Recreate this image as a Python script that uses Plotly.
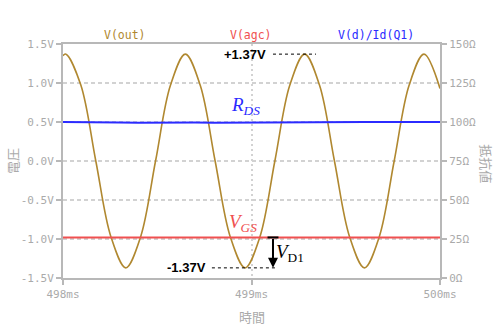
import plotly.graph_objects as go

# ---- data ----
t_out = [498.000, 498.016, 498.095, 498.174, 498.254, 498.333, 498.412, 498.491, 498.570,
         498.649, 498.728, 498.807, 498.887, 498.966, 499.045, 499.124, 499.203, 499.282,
         499.361, 499.440, 499.520, 499.599, 499.678, 499.757, 499.836, 499.915, 500.000]
v_out = [1.35, 1.37, 0.97, 0.00, -0.97, -1.37, -0.97, 0.00, 0.97,
         1.37, 0.97, 0.00, -0.97, -1.37, -0.97, 0.00, 0.97, 1.37,
         0.97, 0.00, -0.97, -1.37, -0.97, 0.00, 0.97, 1.37, 0.93]

t_agc = [498.000, 498.250, 498.500, 498.750, 499.000, 499.250, 499.500, 499.750, 500.000]
v_agc = [-0.98, -0.98, -0.979, -0.98, -0.981, -0.98, -0.979, -0.98, -0.98]

t_rds = [498.000, 498.100, 498.200, 498.300, 498.400, 498.500, 498.600, 498.700, 498.800,
         498.900, 499.000, 499.200, 499.400, 499.600, 499.800, 500.000]
r_ds = [100.0, 100.0, 99.9, 99.6, 99.5, 99.6, 99.8, 99.6, 99.5,
        99.6, 99.8, 100.0, 99.9, 100.0, 100.0, 100.0]

x_ticks = [498, 499, 500]
x_ticktext = ["498ms", "499ms", "500ms"]
y_ticks = [-1.5, -1.0, -0.5, 0.0, 0.5, 1.0, 1.5]
y_ticktext = ["-1.5V", "-1.0V", "-0.5V", "0.0V", "0.5V", "1.0V", "1.5V"]
y2_ticks = [0, 25, 50, 75, 100, 125, 150]
y2_ticktext = ["0Ω", "25Ω", "50Ω", "75Ω", "100Ω", "125Ω", "150Ω"]

peak = 1.37
agc_level = -0.98

GOLD = "#b08830"
RED = "#f05050"
BLUE = "#2b2bff"
GRAY = "#b8b8b8"
GRID = "#d2d2d2"
TICKC = "#aaaaaa"
MONO = "DejaVu Sans Mono"
CJK = "Noto Sans CJK JP"

fig = go.Figure()
fig.add_trace(go.Scatter(x=t_out, y=v_out, mode="lines", line=dict(color=GOLD, width=1.6, shape="spline", smoothing=1.0),
                         name="V(out)", showlegend=False))
fig.add_trace(go.Scatter(x=t_agc, y=v_agc, mode="lines", line=dict(color=RED, width=2),
                         name="V(agc)", showlegend=False))
fig.add_trace(go.Scatter(x=t_rds, y=r_ds, mode="lines", line=dict(color=BLUE, width=2),
                         name="V(d)/Id(Q1)", yaxis="y2", showlegend=False))

fig.update_layout(
    width=501, height=332,
    margin=dict(l=63, r=61, t=44, b=54),
    paper_bgcolor="white", plot_bgcolor="white",
    xaxis=dict(range=[498, 500], tickvals=x_ticks, ticktext=x_ticktext,
               showline=True, linecolor=GRAY, linewidth=2, mirror=True,
               ticks="outside", ticklen=5, tickcolor=GRAY, tickwidth=2,
               showgrid=True, gridcolor=GRID, griddash="2px,3px", gridwidth=1.5,
               zeroline=False, tickfont=dict(family=MONO, size=11, color=TICKC)),
    yaxis=dict(range=[-1.5, 1.5], tickvals=y_ticks, ticktext=y_ticktext,
               showline=True, linecolor=GRAY, linewidth=2,
               ticks="outside", ticklen=5, tickcolor=GRAY, tickwidth=2,
               showgrid=True, gridcolor=GRID, griddash="4px,3px", gridwidth=1.5,
               zeroline=False, tickfont=dict(family=MONO, size=11, color=TICKC)),
    yaxis2=dict(range=[0, 150], tickvals=y2_ticks, ticktext=y2_ticktext, overlaying="y", side="right",
                showline=True, linecolor=GRAY, linewidth=2,
                ticks="outside", ticklen=5, tickcolor=GRAY, tickwidth=2,
                showgrid=False, zeroline=False, tickfont=dict(family=MONO, size=11, color=TICKC)),
)

ann = []
# series titles
for txt, col, xp in [("V(out)", GOLD, 125), ("V(agc)", RED, 251), ("V(d)/Id(Q1)", BLUE, 376)]:
    ann.append(dict(text=txt, xref="paper", yref="paper", x=(xp - 63) / 377, y=1.0, yshift=9,
                    xanchor="center", yanchor="middle", showarrow=False,
                    font=dict(family=MONO, size=11.5, color=col)))
# axis titles
ann.append(dict(text="電圧", xref="paper", yref="paper", x=(12 - 63) / 377, y=0.5, textangle=-90,
                showarrow=False, xanchor="center", yanchor="middle", font=dict(family=CJK, size=13, color=TICKC)))
ann.append(dict(text="抵抗値", xref="paper", yref="paper", x=(487 - 63) / 377, y=0.49, textangle=90,
                showarrow=False, xanchor="center", yanchor="middle", font=dict(family=CJK, size=13, color=TICKC)))
ann.append(dict(text="時間", xref="paper", yref="paper", x=0.5, y=-(316 - 278) / 234,
                showarrow=False, xanchor="center", yanchor="middle", font=dict(family=CJK, size=13, color=TICKC)))
# value labels
ann.append(dict(text="<b>+1.37V</b>", x=499.09, y=peak, xanchor="right", yanchor="middle", showarrow=False,
                font=dict(family="Liberation Sans", size=13, color="black")))
ann.append(dict(text="<b>-1.37V</b>", x=498.77, y=-peak, xanchor="right", yanchor="middle", showarrow=False,
                font=dict(family="Liberation Sans", size=13, color="black")))
# math labels
ann.append(dict(text="<i>R</i><sub><i>DS</i></sub>", x=498.880, y=0.70, xanchor="left", yanchor="middle",
                showarrow=False, font=dict(family="Liberation Serif", size=19, color=BLUE)))
ann.append(dict(text="<i>V</i><sub><i>GS</i></sub>", x=498.870, y=-0.79, xanchor="left", yanchor="middle",
                showarrow=False, font=dict(family="Liberation Serif", size=19, color=RED)))
ann.append(dict(text="<i>V</i><sub>D1</sub>", x=499.12, y=-1.18, xanchor="left", yanchor="middle",
                showarrow=False, font=dict(family="Liberation Serif", size=19, color="black")))
# arrow
ann.append(dict(x=499.114, y=-peak, ax=499.114, ay=agc_level, xref="x", yref="y", axref="x", ayref="y",
                text="", showarrow=True, arrowhead=2, arrowsize=1, arrowwidth=2, arrowcolor="black"))
fig.update_layout(annotations=ann)

shapes = [
    dict(type="line", x0=499.114, x1=499.342, y0=peak, y1=peak, xref="x", yref="y",
         line=dict(color="black", width=1, dash="dot")),
    dict(type="line", x0=498.790, x1=499.125, y0=-peak, y1=-peak, xref="x", yref="y",
         line=dict(color="black", width=1, dash="dot")),
    dict(type="line", x0=499.085, x1=499.143, y0=agc_level, y1=agc_level, xref="x", yref="y",
         line=dict(color="black", width=2)),
]
fig.update_layout(shapes=shapes)

fig.write_html("out.html")
